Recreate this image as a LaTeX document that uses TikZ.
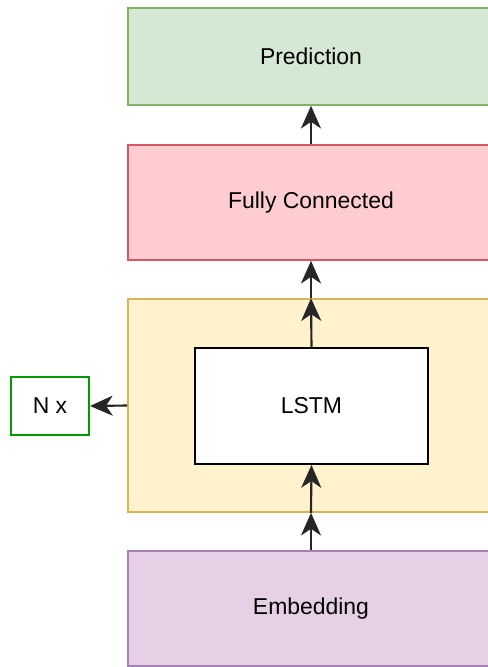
\documentclass[tikz,border=0pt]{standalone}
\usepackage{fontspec}
\setmainfont{Liberation Sans}
\usetikzlibrary{arrows.meta}
\definecolor{grfill}{HTML}{D5E8D4}
\definecolor{grline}{HTML}{82B366}
\definecolor{rdfill}{RGB}{255,204,208}
\definecolor{rdline}{RGB}{214,88,104}
\definecolor{ylfill}{HTML}{FFF2CC}
\definecolor{ylline}{HTML}{D6B656}
\definecolor{pufill}{HTML}{E6D0E6}
\definecolor{puline}{HTML}{A680B8}
\definecolor{nxline}{HTML}{009900}
\begin{document}
\begin{tikzpicture}[x=0.75pt,y=-0.75pt,
  box/.style={draw, line width=1.2pt, minimum width=366*0.75pt, inner sep=0pt, font=\fontsize{17.2}{20}\selectfont},
  arr/.style={draw=black!85, line width=1.6pt, -{Stealth[length=17pt,width=15pt,inset=5pt]}}]
\useasboundingbox (0,0) rectangle (488,667);
\clip (0,0) rectangle (488,667);
\node[box, fill=grfill, draw=grline, minimum height=97*0.75pt] (pred) at (311,56.5) {Prediction};
\node[box, fill=rdfill, draw=rdline, minimum height=115*0.75pt] (fc) at (311,202.5) {Fully Connected};
\node[box, fill=ylfill, draw=ylline, minimum height=213*0.75pt] (blk) at (311,405.5) {};
\node[box, fill=white, draw=black, line width=1.6pt, minimum width=233*0.75pt, minimum height=116*0.75pt] (lstm) at (311.5,406) {LSTM};
\node[box, fill=pufill, draw=puline, minimum height=115*0.75pt] (emb) at (311,608.5) {Embedding};
\node[box, fill=white, draw=nxline, line width=1.5pt, minimum width=78*0.75pt, minimum height=58*0.75pt] (nx) at (50,406) {N x};
\draw[arr] (fc.north -| pred.south) -- (pred.south);
\draw[arr] (blk.north) -- (fc.south);
\draw[arr] (lstm.north) -- (blk.north);
\draw[arr] (blk.south) -- (lstm.south);
\draw[arr] (emb.north) -- (blk.south);
\draw[arr] (blk.west) -- (nx.east);
\end{tikzpicture}
\end{document}
